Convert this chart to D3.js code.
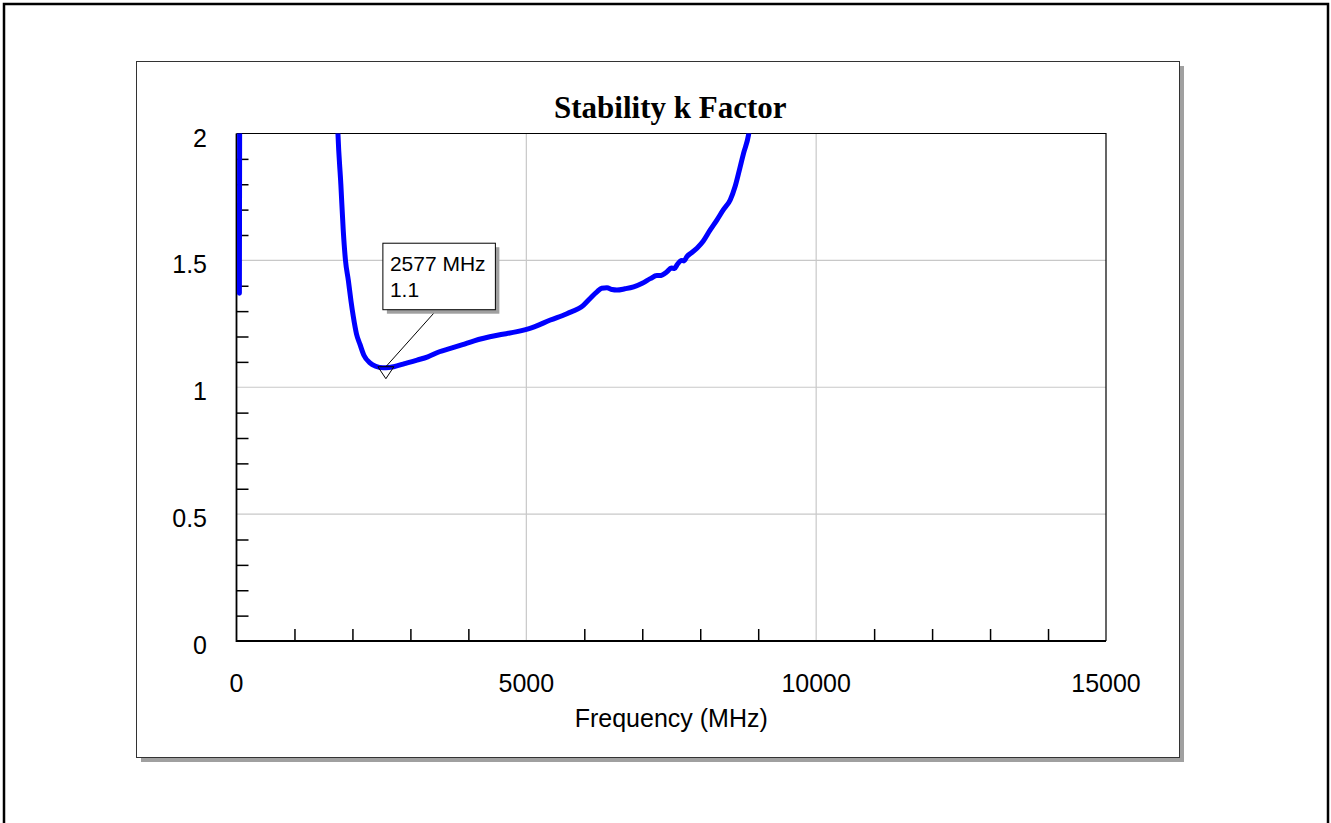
<!DOCTYPE html>
<html>
  <head>
    <meta charset="UTF-8">
    <script type="text/javascript" src="https://d3js.org/d3.v7.min.js"></script>
    <style type="text/css">
      body { margin: 0; background: white; }
      .tick-label { font: 25px "Liberation Sans", Arial, sans-serif; fill: black; }
      .note-text { font: 21px "Liberation Sans", Arial, sans-serif; fill: black; }
    </style>
  </head>
<body>
<script type="text/javascript">
var svgWidth = 1331;
var svgHeight = 823;

// plot area inside the panel
var plot = {left: 236.5, right: 1106, top: 133.5, bottom: 641};

var titleText = "Stability k Factor";
var xLabel = "Frequency (MHz)";
var xDomain = [0, 15000];
var yDomain = [0, 2];
var xMajor = [0, 5000, 10000, 15000];
var yMajor = [0, 0.5, 1, 1.5, 2];
var xMinorStep = 1000;
var yMinorStep = 0.1;

// low frequency piece (rises above 2 almost at once)
var lowFreq = [50, 58];
var lowK = [1.37, 2.6];

// main piece, frequency in MHz and k
var mainFreq = [1735, 1750, 1800, 1841, 1880, 1930, 1975, 2014, 2070, 2129, 2200, 2302, 2400, 2526, 2577,
  2712, 2900, 3115, 3300, 3500, 3690, 3900, 4100, 4264, 4500, 4839, 5100, 5414, 5700, 5988, 6100,
  6218, 6300, 6391, 6480, 6563, 6700, 6851, 7000, 7138, 7250, 7300, 7426, 7500, 7560, 7598, 7680,
  7720, 7770, 7850, 7943, 8050, 8172, 8287, 8400, 8517, 8600, 8661, 8747, 8833, 8870];
var mainK = [2.1, 2.0, 1.8, 1.62, 1.5, 1.42, 1.34, 1.28, 1.21, 1.17, 1.125, 1.096, 1.083, 1.077, 1.077,
  1.081, 1.093, 1.107, 1.12, 1.14, 1.153, 1.168, 1.183, 1.193, 1.205, 1.219, 1.235, 1.265, 1.29, 1.324, 1.35,
  1.376, 1.39, 1.392, 1.385, 1.383, 1.388, 1.396, 1.41, 1.428, 1.44, 1.44, 1.455, 1.47, 1.468, 1.482, 1.5,
  1.498, 1.515, 1.53, 1.548, 1.575, 1.62, 1.659, 1.7, 1.738, 1.79, 1.843, 1.922, 1.994, 2.05];

// marker
var markFreq = 2577;
var markK = 1.077;

var svg = d3.select("body").append("svg")
  .attr("width", svgWidth)
  .attr("height", svgHeight)

// outer frame
svg.append("rect")
  .attr("x", 4).attr("y", 4)
  .attr("width", 1324).attr("height", 860)
  .attr("fill", "white")
  .attr("stroke", "black")
  .attr("stroke-width", 2.5)

// chart panel with shadow
svg.append("rect")
  .attr("x", 141).attr("y", 66)
  .attr("width", 1043).attr("height", 696)
  .attr("fill", "#a0a0a0")
svg.append("rect")
  .attr("x", 136.5).attr("y", 61.5)
  .attr("width", 1043).attr("height", 696)
  .attr("fill", "white")
  .attr("stroke", "#333")
  .attr("stroke-width", 1)

var x = d3.scaleLinear().domain(xDomain).range([plot.left, plot.right]);
var y = d3.scaleLinear().domain(yDomain).range([plot.bottom, plot.top]);

var xMinor = d3.range(xDomain[0], xDomain[1] + 1, xMinorStep).filter(function(v) { return v % 5000 != 0 });
var yMinor = d3.range(1, 20).map(function(i) { return i * yMinorStep }).filter(function(v, i) { return (i + 1) % 5 != 0 });

// gridlines
svg.append("g").selectAll("line.gx")
  .data(xMajor.slice(1, -1))
  .enter().append("line")
  .attr("x1", function(d) { return x(d) }).attr("x2", function(d) { return x(d) })
  .attr("y1", plot.top).attr("y2", plot.bottom)
  .attr("stroke", "#c8c8c8").attr("stroke-width", 1.2)
svg.append("g").selectAll("line.gy")
  .data(yMajor.slice(1, -1))
  .enter().append("line")
  .attr("x1", plot.left).attr("x2", plot.right)
  .attr("y1", function(d) { return y(d) }).attr("y2", function(d) { return y(d) })
  .attr("stroke", "#c8c8c8").attr("stroke-width", 1.2)

// top and right border of the plot
svg.append("path")
  .attr("d", "M" + plot.left + "," + plot.top + "H" + plot.right + "V" + plot.bottom)
  .attr("fill", "none").attr("stroke", "black").attr("stroke-width", 1.2)

// minor ticks pointing inwards
var xAxis = d3.axisTop(x).tickValues(xMinor).tickSize(12).tickFormat("");
var yAxis = d3.axisRight(y).tickValues(yMinor).tickSize(12).tickFormat("");

var gX = svg.append("g")
  .attr("transform", "translate(0," + plot.bottom + ")")
  .call(xAxis)
gX.select(".domain").remove()
gX.selectAll("line").attr("stroke", "black").attr("stroke-width", 1.5)

var gY = svg.append("g")
  .attr("transform", "translate(" + plot.left + ",0)")
  .call(yAxis)
gY.select(".domain").remove()
gY.selectAll("line").attr("stroke", "black").attr("stroke-width", 1.5)

svg.append("path")
  .attr("d", "M" + plot.left + "," + plot.top + "V" + plot.bottom + "H" + plot.right)
  .attr("fill", "none").attr("stroke", "black").attr("stroke-width", 1.8)

// tick labels
svg.append("g").selectAll("text")
  .data(yMajor)
  .enter().append("text")
  .attr("class", "tick-label")
  .attr("x", 207)
  .attr("y", function(d) { return y(d) + 13 })
  .attr("text-anchor", "end")
  .text(function(d) { return d })
svg.append("g").selectAll("text")
  .data(xMajor)
  .enter().append("text")
  .attr("class", "tick-label")
  .attr("x", function(d) { return x(d) })
  .attr("y", plot.bottom + 50.5)
  .attr("text-anchor", "middle")
  .text(function(d) { return d })

svg.append("text")
  .attr("x", (plot.left + plot.right) / 2 - 1)
  .attr("y", 118)
  .attr("text-anchor", "middle")
  .style("font", "bold 31px 'Liberation Serif', 'Times New Roman', serif")
  .text(titleText)

svg.append("text")
  .attr("class", "tick-label")
  .attr("x", (plot.left + plot.right) / 2)
  .attr("y", 726.5)
  .attr("text-anchor", "middle")
  .text(xLabel)

// curve
svg.append("clipPath").attr("id", "plotclip")
  .append("rect")
  .attr("x", plot.left).attr("y", plot.top)
  .attr("width", plot.right - plot.left).attr("height", plot.bottom - plot.top)

var line = d3.line()
  .x(function(d) { return x(d[0]) })
  .y(function(d) { return y(d[1]) })
  .curve(d3.curveMonotoneX)

var pieces = [d3.zip(lowFreq, lowK), d3.zip(mainFreq, mainK)];

svg.append("g").attr("clip-path", "url(#plotclip)")
  .selectAll("path")
  .data(pieces)
  .enter().append("path")
  .attr("d", line)
  .attr("fill", "none")
  .attr("stroke", "#0000ff")
  .attr("stroke-width", 5)
  .attr("stroke-linecap", "round")
  .attr("stroke-linejoin", "round")

// marker and its note
var mx = x(markFreq), my = y(markK);
svg.append("path")
  .attr("d", "M" + (mx - 8) + "," + (my - 1) + "H" + (mx + 8) + "L" + mx + "," + (my + 11) + "Z")
  .attr("fill", "none").attr("stroke", "black").attr("stroke-width", 1)

var box = {x: mx - 3, y: my - 124.5, w: 112.5, h: 66.5};
svg.append("line")
  .attr("x1", mx).attr("y1", my - 1)
  .attr("x2", mx + 51).attr("y2", box.y + box.h)
  .attr("stroke", "black").attr("stroke-width", 1)
svg.append("rect")
  .attr("x", box.x + 4).attr("y", box.y + 4)
  .attr("width", box.w).attr("height", box.h)
  .attr("fill", "#a0a0a0")
svg.append("rect")
  .attr("x", box.x).attr("y", box.y)
  .attr("width", box.w).attr("height", box.h)
  .attr("fill", "white").attr("stroke", "black").attr("stroke-width", 1)
svg.append("text")
  .attr("class", "note-text")
  .attr("x", box.x + 7).attr("y", box.y + 27.5)
  .text(markFreq + " MHz")
svg.append("text")
  .attr("class", "note-text")
  .attr("x", box.x + 7).attr("y", box.y + 53.5)
  .text(d3.format(".1f")(markK))
</script>
</body>
</html>
